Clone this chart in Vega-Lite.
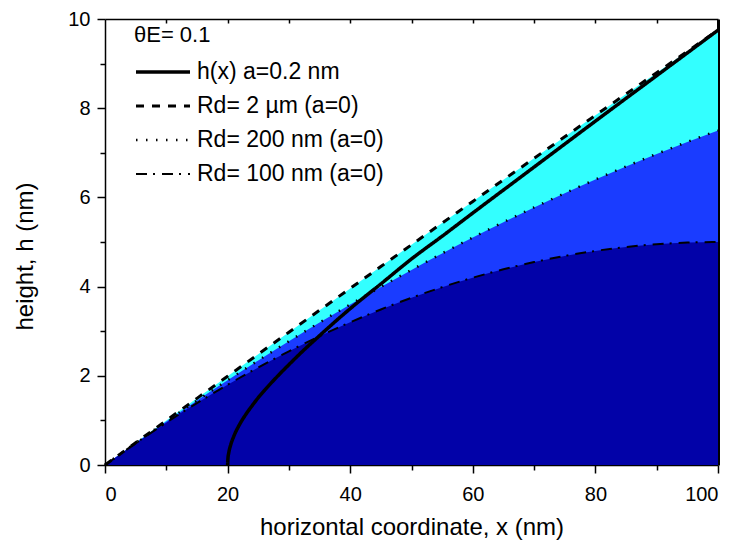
{
  "$schema": "https://vega.github.io/schema/vega-lite/v6.json",
  "width": 613,
  "height": 446,
  "autosize": {"type": "none"},
  "padding": {"left": 105, "top": 19, "right": 16, "bottom": 76},
  "background": "white",
  "config": {
    "view": {"stroke": null},
    "axis": {
      "domainColor": "black", "tickColor": "black", "labelColor": "black", "titleColor": "black",
      "labelFont": "Liberation Sans", "titleFont": "Liberation Sans",
      "labelFontSize": 20, "titleFontSize": 24, "titleFontWeight": "normal",
      "domainWidth": 1.5, "tickWidth": 1.5, "grid": false, "zindex": 1
    }
  },
  "datasets": {
    "curves": [
      {"series": "Rd= 2 µm (a=0)", "x": 0, "h": 0},
      {"series": "Rd= 2 µm (a=0)", "x": 5, "h": 0.4994},
      {"series": "Rd= 2 µm (a=0)", "x": 10, "h": 0.9975},
      {"series": "Rd= 2 µm (a=0)", "x": 15, "h": 1.4944},
      {"series": "Rd= 2 µm (a=0)", "x": 20, "h": 1.99},
      {"series": "Rd= 2 µm (a=0)", "x": 25, "h": 2.4844},
      {"series": "Rd= 2 µm (a=0)", "x": 30, "h": 2.9775},
      {"series": "Rd= 2 µm (a=0)", "x": 35, "h": 3.4694},
      {"series": "Rd= 2 µm (a=0)", "x": 40, "h": 3.96},
      {"series": "Rd= 2 µm (a=0)", "x": 45, "h": 4.4494},
      {"series": "Rd= 2 µm (a=0)", "x": 50, "h": 4.9375},
      {"series": "Rd= 2 µm (a=0)", "x": 55, "h": 5.4244},
      {"series": "Rd= 2 µm (a=0)", "x": 60, "h": 5.91},
      {"series": "Rd= 2 µm (a=0)", "x": 65, "h": 6.3944},
      {"series": "Rd= 2 µm (a=0)", "x": 70, "h": 6.8775},
      {"series": "Rd= 2 µm (a=0)", "x": 75, "h": 7.3594},
      {"series": "Rd= 2 µm (a=0)", "x": 80, "h": 7.84},
      {"series": "Rd= 2 µm (a=0)", "x": 85, "h": 8.3194},
      {"series": "Rd= 2 µm (a=0)", "x": 90, "h": 8.7975},
      {"series": "Rd= 2 µm (a=0)", "x": 95, "h": 9.2744},
      {"series": "Rd= 2 µm (a=0)", "x": 100, "h": 9.75},
      {"series": "Rd= 200 nm (a=0)", "x": 0, "h": 0},
      {"series": "Rd= 200 nm (a=0)", "x": 5, "h": 0.4938},
      {"series": "Rd= 200 nm (a=0)", "x": 10, "h": 0.975},
      {"series": "Rd= 200 nm (a=0)", "x": 15, "h": 1.4438},
      {"series": "Rd= 200 nm (a=0)", "x": 20, "h": 1.9},
      {"series": "Rd= 200 nm (a=0)", "x": 25, "h": 2.3438},
      {"series": "Rd= 200 nm (a=0)", "x": 30, "h": 2.775},
      {"series": "Rd= 200 nm (a=0)", "x": 35, "h": 3.1938},
      {"series": "Rd= 200 nm (a=0)", "x": 40, "h": 3.6},
      {"series": "Rd= 200 nm (a=0)", "x": 45, "h": 3.9938},
      {"series": "Rd= 200 nm (a=0)", "x": 50, "h": 4.375},
      {"series": "Rd= 200 nm (a=0)", "x": 55, "h": 4.7438},
      {"series": "Rd= 200 nm (a=0)", "x": 60, "h": 5.1},
      {"series": "Rd= 200 nm (a=0)", "x": 65, "h": 5.4438},
      {"series": "Rd= 200 nm (a=0)", "x": 70, "h": 5.775},
      {"series": "Rd= 200 nm (a=0)", "x": 75, "h": 6.0938},
      {"series": "Rd= 200 nm (a=0)", "x": 80, "h": 6.4},
      {"series": "Rd= 200 nm (a=0)", "x": 85, "h": 6.6938},
      {"series": "Rd= 200 nm (a=0)", "x": 90, "h": 6.975},
      {"series": "Rd= 200 nm (a=0)", "x": 95, "h": 7.2438},
      {"series": "Rd= 200 nm (a=0)", "x": 100, "h": 7.5},
      {"series": "Rd= 100 nm (a=0)", "x": 0, "h": 0},
      {"series": "Rd= 100 nm (a=0)", "x": 5, "h": 0.4875},
      {"series": "Rd= 100 nm (a=0)", "x": 10, "h": 0.95},
      {"series": "Rd= 100 nm (a=0)", "x": 15, "h": 1.3875},
      {"series": "Rd= 100 nm (a=0)", "x": 20, "h": 1.8},
      {"series": "Rd= 100 nm (a=0)", "x": 25, "h": 2.1875},
      {"series": "Rd= 100 nm (a=0)", "x": 30, "h": 2.55},
      {"series": "Rd= 100 nm (a=0)", "x": 35, "h": 2.8875},
      {"series": "Rd= 100 nm (a=0)", "x": 40, "h": 3.2},
      {"series": "Rd= 100 nm (a=0)", "x": 45, "h": 3.4875},
      {"series": "Rd= 100 nm (a=0)", "x": 50, "h": 3.75},
      {"series": "Rd= 100 nm (a=0)", "x": 55, "h": 3.9875},
      {"series": "Rd= 100 nm (a=0)", "x": 60, "h": 4.2},
      {"series": "Rd= 100 nm (a=0)", "x": 65, "h": 4.3875},
      {"series": "Rd= 100 nm (a=0)", "x": 70, "h": 4.55},
      {"series": "Rd= 100 nm (a=0)", "x": 75, "h": 4.6875},
      {"series": "Rd= 100 nm (a=0)", "x": 80, "h": 4.8},
      {"series": "Rd= 100 nm (a=0)", "x": 85, "h": 4.8875},
      {"series": "Rd= 100 nm (a=0)", "x": 90, "h": 4.95},
      {"series": "Rd= 100 nm (a=0)", "x": 95, "h": 4.9875},
      {"series": "Rd= 100 nm (a=0)", "x": 100, "h": 5},
      {"series": "h(x) a=0.2 nm", "x": 20, "h": 0},
      {"series": "h(x) a=0.2 nm", "x": 20.05, "h": 0.14},
      {"series": "h(x) a=0.2 nm", "x": 20.2, "h": 0.28},
      {"series": "h(x) a=0.2 nm", "x": 20.5, "h": 0.45},
      {"series": "h(x) a=0.2 nm", "x": 21, "h": 0.64},
      {"series": "h(x) a=0.2 nm", "x": 22, "h": 0.92},
      {"series": "h(x) a=0.2 nm", "x": 23, "h": 1.14},
      {"series": "h(x) a=0.2 nm", "x": 24, "h": 1.33},
      {"series": "h(x) a=0.2 nm", "x": 25, "h": 1.51},
      {"series": "h(x) a=0.2 nm", "x": 26, "h": 1.67},
      {"series": "h(x) a=0.2 nm", "x": 28, "h": 1.97},
      {"series": "h(x) a=0.2 nm", "x": 30, "h": 2.25},
      {"series": "h(x) a=0.2 nm", "x": 32, "h": 2.52},
      {"series": "h(x) a=0.2 nm", "x": 35, "h": 2.9},
      {"series": "h(x) a=0.2 nm", "x": 38, "h": 3.27},
      {"series": "h(x) a=0.2 nm", "x": 41, "h": 3.62},
      {"series": "h(x) a=0.2 nm", "x": 45, "h": 4.06},
      {"series": "h(x) a=0.2 nm", "x": 50, "h": 4.62},
      {"series": "h(x) a=0.2 nm", "x": 55, "h": 5.13},
      {"series": "h(x) a=0.2 nm", "x": 60, "h": 5.65},
      {"series": "h(x) a=0.2 nm", "x": 70, "h": 6.68},
      {"series": "h(x) a=0.2 nm", "x": 80, "h": 7.71},
      {"series": "h(x) a=0.2 nm", "x": 90, "h": 8.73},
      {"series": "h(x) a=0.2 nm", "x": 100, "h": 9.75}
    ]
  },
  "data": {"name": "curves"},
  "layer": [
    {
      "transform": [{"filter": {"field": "series", "equal": "Rd= 2 µm (a=0)"}}],
      "mark": {"type": "area", "color": "#33FFFF", "interpolate": "monotone"},
      "encoding": {
        "x": {"field": "x", "type": "quantitative", "scale": {"domain": [0, 100], "nice": false},
          "axis": {"orient": "bottom", "values": [0, 20, 40, 60, 80, 100], "tickSize": 8, "labelPadding": 27, "labelBaseline": "alphabetic",
            "title": "horizontal coordinate, x (nm)", "titleBaseline": "alphabetic", "titleY": 69}},
        "y": {"field": "h", "type": "quantitative", "scale": {"domain": [0, 10], "nice": false},
          "axis": {"orient": "left", "values": [0, 2, 4, 6, 8, 10], "tickSize": 8, "labelPadding": 7,
            "title": "height, h (nm)", "titleBaseline": "alphabetic", "titleX": -73, "titleY": 237, "titleAngle": -90}}
      }
    },
    {
      "transform": [{"filter": {"field": "series", "equal": "Rd= 200 nm (a=0)"}}],
      "mark": {"type": "area", "color": "#1A3CFF", "interpolate": "monotone"},
      "encoding": {
        "x": {"field": "x", "type": "quantitative",
          "axis": {"orient": "bottom", "values": [10, 30, 50, 70, 90], "tickSize": 5, "labels": false, "domain": false, "title": null}},
        "y": {"field": "h", "type": "quantitative",
          "axis": {"orient": "left", "values": [1, 3, 5, 7, 9], "tickSize": 5, "labels": false, "domain": false, "title": null}}
      }
    },
    {
      "transform": [{"filter": {"field": "series", "equal": "Rd= 100 nm (a=0)"}}],
      "mark": {"type": "area", "color": "#0202A8", "interpolate": "monotone"},
      "encoding": {
        "x": {"field": "x", "type": "quantitative",
          "axis": {"orient": "top", "values": [10, 20, 30, 40, 50, 60, 70, 80, 90], "tickSize": -4, "labels": false, "title": null}},
        "y": {"field": "h", "type": "quantitative",
          "axis": {"orient": "right", "ticks": false, "labels": false, "domainWidth": 3, "title": null}}
      }
    },
    {
      "mark": {"type": "line", "color": "black", "interpolate": "monotone", "strokeCap": "butt"},
      "encoding": {
        "x": {"field": "x", "type": "quantitative", "axis": null},
        "y": {"field": "h", "type": "quantitative", "axis": null},
        "strokeDash": {"field": "series", "type": "nominal",
          "scale": {"domain": ["h(x) a=0.2 nm", "Rd= 2 µm (a=0)", "Rd= 200 nm (a=0)", "Rd= 100 nm (a=0)"],
            "range": [[1, 0], [8, 8], [1.5, 8.5], [11, 6, 2, 7]]},
          "legend": {"title": "θE= 0.1", "orient": "none", "legendX": 29, "legendY": 6, "symbolType": "stroke", "symbolSize": 2916,
            "symbolStrokeColor": "black", "labelFont": "Liberation Sans", "labelFontSize": 23, "labelColor": "black",
            "titleFont": "Liberation Sans", "titleFontSize": 22, "titleFontWeight": "normal", "titleColor": "black",
            "labelOffset": 5, "clipHeight": 24, "rowPadding": 10, "titlePadding": 13, "padding": 0, "labelLimit": 400}},
        "strokeWidth": {"field": "series", "type": "nominal",
          "scale": {"domain": ["h(x) a=0.2 nm", "Rd= 2 µm (a=0)", "Rd= 200 nm (a=0)", "Rd= 100 nm (a=0)"],
            "range": [3.5, 2, 1.5, 2]},
          "legend": {"title": "θE= 0.1", "orient": "none", "legendX": 29, "legendY": 6, "symbolType": "stroke", "symbolSize": 2916,
            "symbolStrokeColor": "black", "labelFont": "Liberation Sans", "labelFontSize": 23, "labelColor": "black",
            "titleFont": "Liberation Sans", "titleFontSize": 22, "titleFontWeight": "normal", "titleColor": "black",
            "labelOffset": 5, "clipHeight": 24, "rowPadding": 10, "titlePadding": 13, "padding": 0, "labelLimit": 400}}
      }
    }
  ],
  "resolve": {"axis": {"x": "independent", "y": "independent"}}
}
